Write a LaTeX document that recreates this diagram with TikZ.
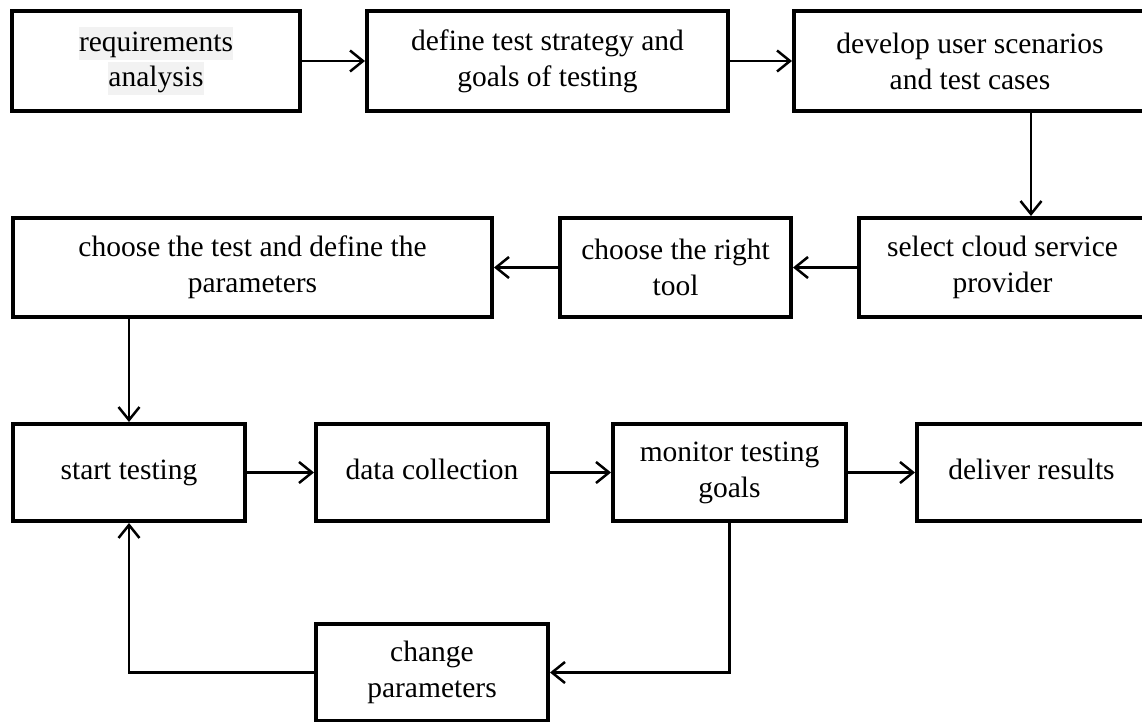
\documentclass[tikz,border=0pt]{standalone}
\usepackage{fontspec}
\setmainfont{Liberation Serif}
\usetikzlibrary{arrows.meta}
\definecolor{hl}{HTML}{F2F2F2}
\newcommand{\hlline}[1]{{\setlength{\fboxsep}{0pt}\colorbox{hl}{\rule[-8pt]{0pt}{33pt}#1}}}
\begin{document}
\begin{tikzpicture}[x=1pt,y=-1pt,
  box/.style={draw=black,line width=4pt,rectangle,inner sep=0pt,align=center,
    font=\fontsize{29.5}{36}\selectfont,text=black},
  arr/.style={draw=black,line width=2.5pt,-{Straight Barb[length=13pt,width=21pt]}},
  con/.style={draw=black,line width=2.5pt}]
\useasboundingbox (0,0) rectangle (1142,722);
\fill[white] (0,0) rectangle (1142,722);
% row 1
\node[box,minimum width=288pt,minimum height=100pt] (b1) at (156,61) {\hlline{requirements}\\[-1pt]\hlline{analysis}};
\node[box,minimum width=361pt,minimum height=100pt] (b2) at (547.5,61) {define test strategy and\\goals of testing};
\node[box,minimum width=352pt,minimum height=100pt] (b3) at (970,61) {develop user scenarios\\and test cases};
% row 2
\node[box,minimum width=479pt,minimum height=99pt] (b4) at (252.5,267.5) {choose the test and define the\\parameters};
\node[box,minimum width=231pt,minimum height=99pt] (b5) at (675.5,267.5) {choose the right\\tool};
\node[box,minimum width=287pt,minimum height=99pt] (b6) at (1002.5,267.5) {select cloud service\\provider};
% row 3
\node[box,minimum width=232pt,minimum height=97pt] (b7) at (129,472.5) {start testing};
\node[box,minimum width=232pt,minimum height=97pt] (b8) at (432,472.5) {data collection\vphantom{g}};
\node[box,minimum width=233pt,minimum height=97pt] (b9) at (729.5,472.5) {monitor testing\\goals};
\node[box,minimum width=229pt,minimum height=97pt] (b10) at (1031.5,472.5) {deliver results\vphantom{g}};
% row 4
\node[box,minimum width=232pt,minimum height=97pt] (b11) at (432,672.5) {change\\parameters};
\coordinate (cx) at (1031,0);
% connectors
\draw[arr] (b1.east) -- (b2.west);
\draw[arr] (b2.east) -- (b3.west);
\draw[arr] (b3.south -| cx) -- (b6.north -| cx);
\draw[arr] (b6.west) -- (b5.east);
\draw[arr] (b5.west) -- (b4.east);
\draw[arr] (b4.south -| b7.north) -- (b7.north);
\draw[arr] (b7.east) -- (b8.west);
\draw[arr] (b8.east) -- (b9.west);
\draw[arr] (b9.east) -- (b10.west);
\draw[arr] (b9.south) |- (b11.east);
\draw[arr] (b11.west) -| (b7.south);
\end{tikzpicture}
\end{document}
